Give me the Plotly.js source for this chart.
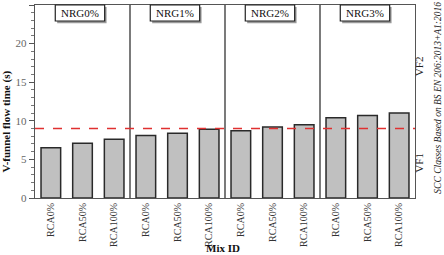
<!DOCTYPE html>
<html><head><meta charset="utf-8">
<script src="https://cdn.plot.ly/plotly-3.0.1.min.js"></script>
<style>html,body{margin:0;padding:0;background:#fff}#c{width:444px;height:255px}</style>
</head><body><div id="c"></div>
<script>
const mixIds = ["RCA0%","RCA50%","RCA100%","RCA0%","RCA50%","RCA100%","RCA0%","RCA50%","RCA100%","RCA0%","RCA50%","RCA100%"];
const flowTime = [6.5,7.1,7.6,8.1,8.4,8.9,8.7,9.2,9.5,10.4,10.7,11.0];
const groups = ["NRG0%","NRG1%","NRG2%","NRG3%"];
const vf1Limit = 9;
const yTicks = [0,5,10,15,20,25];

const xs = mixIds.map((_, i) => i);
const serif = "'Liberation Serif', 'Times New Roman', serif";

const shapes = [];
for (let g = 1; g < groups.length; g++) {
  shapes.push({type:'line', xref:'x', yref:'paper', x0:g*3-0.5, x1:g*3-0.5, y0:0, y1:1,
    line:{color:'#222', width:1.2}});
}
shapes.push({type:'line', xref:'paper', yref:'y', x0:0, x1:1, y0:vf1Limit, y1:vf1Limit,
  line:{color:'#e03030', width:1.5, dash:'dash'}});

const annotations = [];
groups.forEach((g, i) => {
  const c = i*3 + 0.92;
  shapes.push({type:'rect', xref:'x', yref:'paper', x0:c-0.72, x1:c+0.84, y0:0.905, y1:0.99,
    fillcolor:'#9a9a9a', line:{width:0}});
  shapes.push({type:'rect', xref:'x', yref:'paper', x0:c-0.78, x1:c+0.78, y0:0.917, y1:1,
    fillcolor:'#fff', line:{color:'#222', width:1.2}});
  annotations.push({x:c, y:0.9585, xref:'x', yref:'paper', yanchor:'middle', xanchor:'center',
    text:g, showarrow:false, font:{family:serif, size:11, color:'#111'}});
});
annotations.push({x:1.032, y:17.1, xref:'paper', yref:'y', text:'VF2', textangle:-90,
  showarrow:false, font:{family:serif, size:11, color:'#222'}});
annotations.push({x:1.032, y:4.6, xref:'paper', yref:'y', text:'VF1', textangle:-90,
  showarrow:false, font:{family:serif, size:11, color:'#222'}});
annotations.push({x:1.0605, y:0.52, xref:'paper', yref:'paper', xanchor:'center', yanchor:'middle',
  text:'<i>SCC Classes Based on BS EN 206:2013+A1:2016</i>', textangle:-90,
  showarrow:false, font:{family:serif, size:9.5, color:'#222'}});
annotations.push({x:-0.074, y:0.396, xref:'paper', yref:'paper', xanchor:'center', yanchor:'middle',
  text:'<b>V-funnel flow time (s)</b>', textangle:-90,
  showarrow:false, font:{family:serif, size:11, color:'#111'}});
annotations.push({x:0.494, y:-0.26, xref:'paper', yref:'paper', xanchor:'center', yanchor:'middle',
  text:'<b>Mix ID</b>', showarrow:false, font:{family:serif, size:11, color:'#111'}});

Plotly.newPlot('c', [{
  type:'bar', x:xs, y:flowTime, width:0.62,
  marker:{color:'#c0c0c0', line:{color:'#2a2a2a', width:1.5}},
  hoverinfo:'none'
}], {
  width:444, height:255,
  margin:{l:35, r:29, t:5, b:57},
  paper_bgcolor:'#fff', plot_bgcolor:'#fff',
  showlegend:false,
  bargap:0.38,
  xaxis:{range:[-0.5, 11.5], tickvals:xs, ticktext:mixIds, tickangle:-90,
    tickfont:{family:serif, size:10, color:'#333'}, showgrid:false, zeroline:false,
    showline:true, linecolor:'#555', linewidth:1, mirror:true, ticks:''},
  yaxis:{range:[0,25], tickvals:yTicks, showgrid:false, zeroline:false,
    showline:true, linecolor:'#555', linewidth:1.2, mirror:true,
    ticks:'outside', ticklen:5, tickcolor:'#555',
    minor:{dtick:1, ticks:'outside', ticklen:3, tickcolor:'#777'},
    tickfont:{family:serif, size:11, color:'#666'}},
  shapes:shapes, annotations:annotations
}, {staticPlot:true});
</script></body></html>
